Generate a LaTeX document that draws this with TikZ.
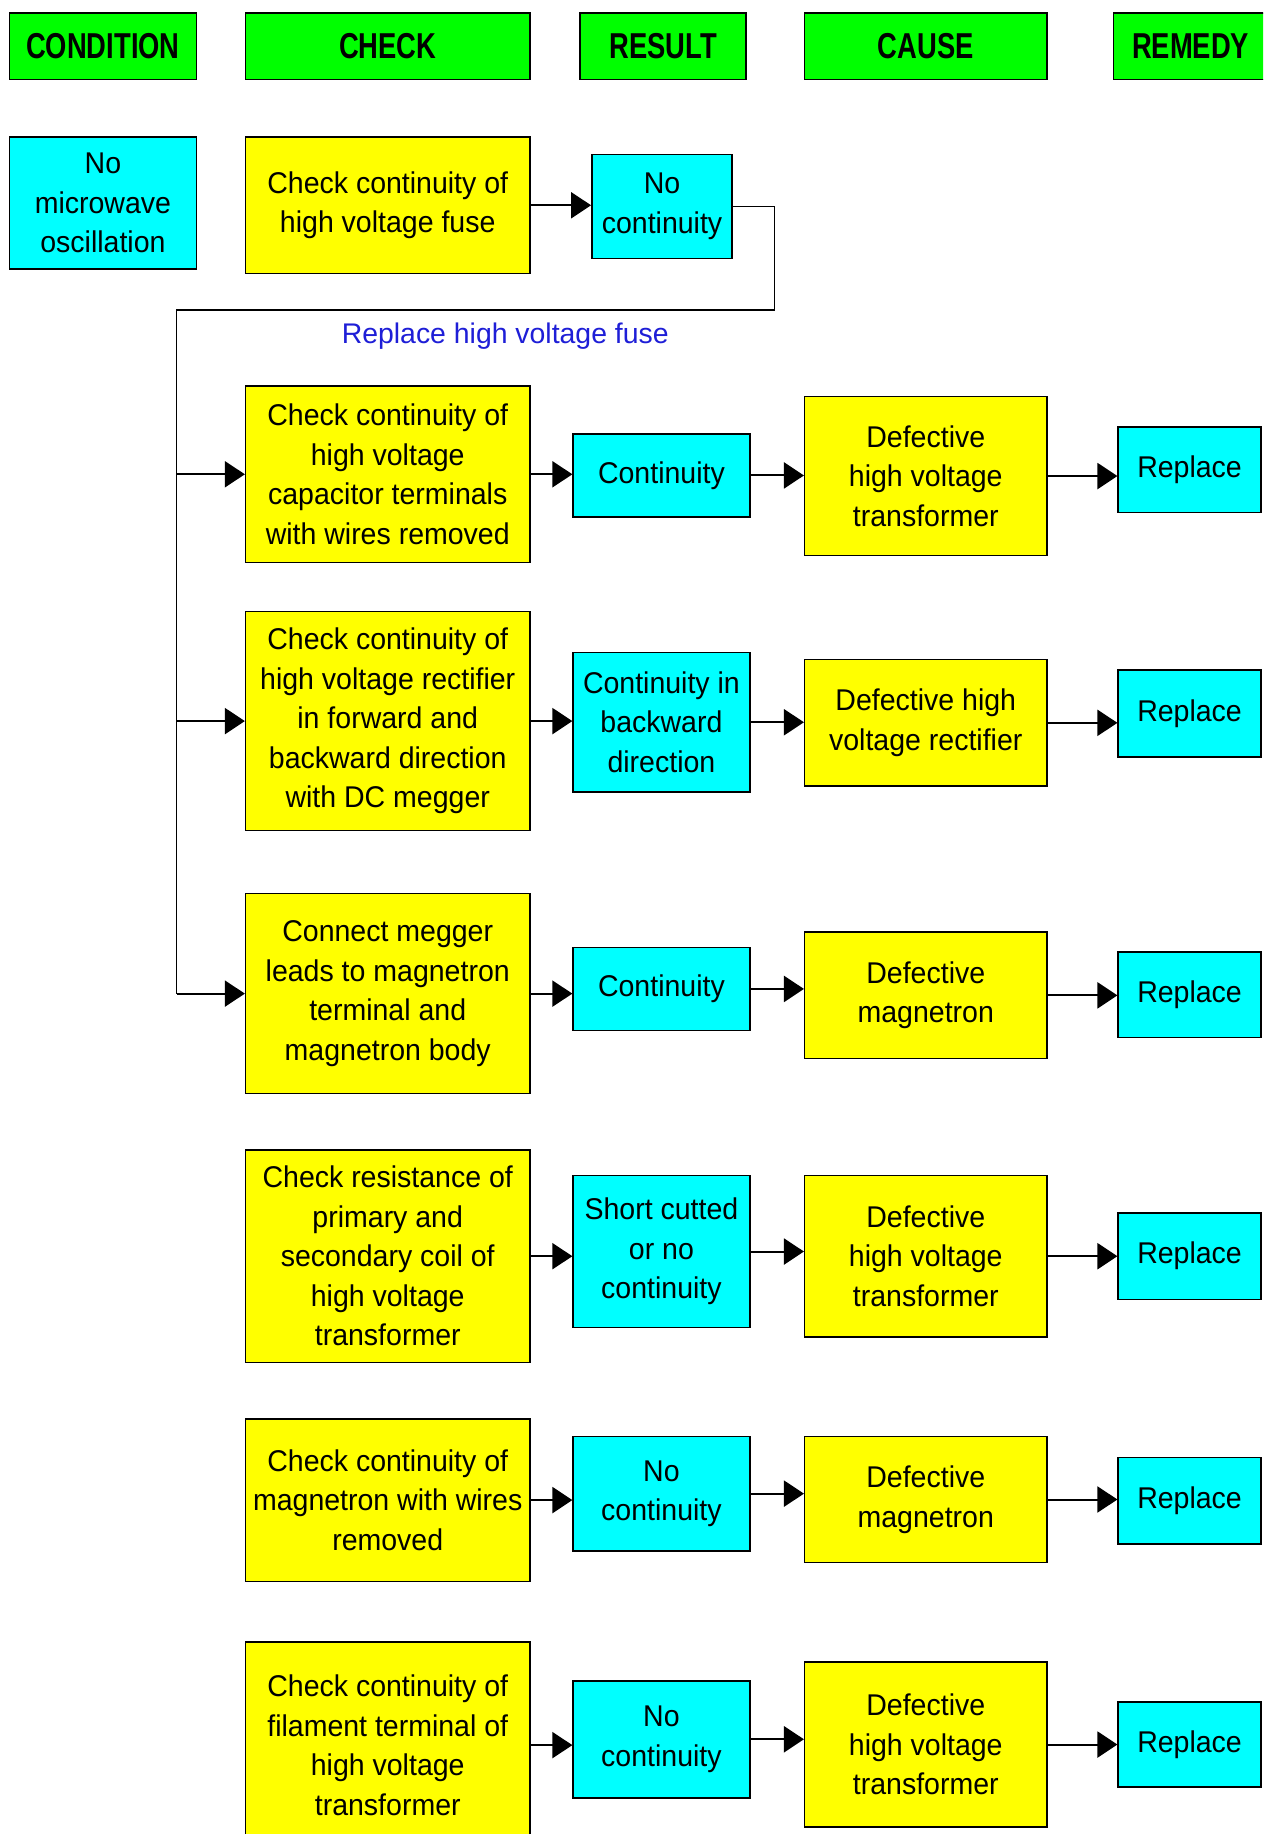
\documentclass[tikz,border=0pt]{standalone}
\usepackage{fontspec}
\setmainfont[FakeStretch=0.95]{Liberation Sans}
\newfontfamily\hdrfont[FakeStretch=0.76]{Liberation Sans}
\newfontfamily\plainfont{Liberation Sans}
\usetikzlibrary{arrows.meta}
\definecolor{hgreen}{RGB}{0,255,0}
\definecolor{hyellow}{RGB}{255,255,0}
\definecolor{hcyan}{RGB}{0,255,255}
\definecolor{hblue}{RGB}{30,30,215}
\newcommand\mybox[7]{\node[#6, minimum width={(#4-#2)*1.1694pt}, minimum height={(#5-#3)*1.1694pt}] (#1) at ({(#2+#4)/2},{(#3+#5)/2}) {#7};}
\begin{document}
\begin{tikzpicture}[x=1.1694pt,y=-1.1694pt,
  base/.style={draw=black,line width=1.5pt,inner sep=0pt,align=center,font=\fontsize{30}{39.5}\selectfont},
  hdr/.style={base,fill=hgreen,font=\hdrfont\bfseries\fontsize{36}{40}\selectfont},
  ybox/.style={base,fill=hyellow},
  cbox/.style={base,fill=hcyan},
  wire/.style={draw=black,line width=1.5pt},
  arr/.style={draw=black,line width=2pt,-{Triangle[length=20pt,width=26pt]}}]
\clip (0,0) rectangle (1080,1568);
\fill[white] (0,0) rectangle (1080,1568);
% headers
\mybox{hC}{8}{11}{168}{68}{hdr}{CONDITION}
\mybox{hK}{210}{11}{453}{68}{hdr}{CHECK}
\mybox{hR}{496}{11}{638}{68}{hdr}{RESULT}
\mybox{hA}{688}{11}{895}{68}{hdr}{CAUSE}
\mybox{hM}{952}{11}{1084}{68}{hdr}{REMEDY}
% row 0
\mybox{cond}{8}{117}{168}{230}{cbox}{No\\microwave\\oscillation}
\mybox{ck0}{210}{117}{453}{234}{ybox}{Check continuity of\\high voltage fuse}
\mybox{rs0}{506}{132}{626}{221}{cbox}{No\\continuity}
% row 1
\mybox{ck1}{210}{330}{453}{481}{ybox}{Check continuity of\\high voltage\\capacitor terminals\\with wires removed}
\mybox{rs1}{490}{371}{641}{442}{cbox}{Continuity}
\mybox{ca1}{688}{339}{895}{475}{ybox}{Defective\\high voltage\\transformer}
\mybox{rm1}{956}{365}{1078}{438}{cbox}{Replace}
% row 2
\mybox{ck2}{210}{523}{453}{710}{ybox}{Check continuity of\\high voltage rectifier\\in forward and\\backward direction\\with DC megger}
\mybox{rs2}{490}{558}{641}{677}{cbox}{Continuity in\\backward\\direction}
\mybox{ca2}{688}{564}{895}{672}{ybox}{Defective high\\voltage rectifier}
\mybox{rm2}{956}{573}{1078}{647}{cbox}{Replace}
% row 3
\mybox{ck3}{210}{764}{453}{935}{ybox}{Connect megger\\leads to magnetron\\terminal and\\magnetron body}
\mybox{rs3}{490}{810}{641}{881}{cbox}{Continuity}
\mybox{ca3}{688}{797}{895}{905}{ybox}{Defective\\magnetron}
\mybox{rm3}{956}{814}{1078}{887}{cbox}{Replace}
% row 4
\mybox{ck4}{210}{983}{453}{1165}{ybox}{Check resistance of\\primary and\\secondary coil of\\high voltage\\transformer}
\mybox{rs4}{490}{1005}{641}{1135}{cbox}{Short cutted\\or no\\continuity}
\mybox{ca4}{688}{1005}{895}{1143}{ybox}{Defective\\high voltage\\transformer}
\mybox{rm4}{956}{1037}{1078}{1111}{cbox}{Replace}
% row 5
\mybox{ck5}{210}{1213}{453}{1352}{ybox}{Check continuity of\\magnetron with wires\\removed}
\mybox{rs5}{490}{1228}{641}{1326}{cbox}{No\\continuity}
\mybox{ca5}{688}{1228}{895}{1336}{ybox}{Defective\\magnetron}
\mybox{rm5}{956}{1246}{1078}{1320}{cbox}{Replace}
% row 6
\mybox{ck6}{210}{1404}{453}{1580}{ybox}{Check continuity of\\filament terminal of\\high voltage\\transformer}
\mybox{rs6}{490}{1437}{641}{1537}{cbox}{No\\continuity}
\mybox{ca6}{688}{1421}{895}{1562}{ybox}{Defective\\high voltage\\transformer}
\mybox{rm6}{956}{1455}{1078}{1528}{cbox}{Replace}
% fuse remedy label
\node[text=hblue,font=\plainfont\fontsize{28.4}{32}\selectfont,inner sep=0pt] (fuse) at (432,287) {Replace high voltage fuse};
% routing
\coordinate (t1) at (662,176);
\coordinate (t2) at (662,265);
\coordinate (t3) at (151,265);
\draw[arr] (ck0.east) -- (ck0.east -| rs0.west);
\draw[wire] (rs0.east) -- (rs0.east -| t1) -- (t2) -- (t3) -- (t3 |- ck3.west);
\foreach \i in {1,2,3}{
  \draw[arr] (t3 |- ck\i.west) -- (ck\i.west);
}
\foreach \i in {1,...,6}{
  \draw[arr] (ck\i.east) -- (ck\i.east -| rs\i.west);
  \draw[arr] (rs\i.east) -- (rs\i.east -| ca\i.west);
  \draw[arr] (ca\i.east) -- (ca\i.east -| rm\i.west);
}
\end{tikzpicture}
\end{document}
